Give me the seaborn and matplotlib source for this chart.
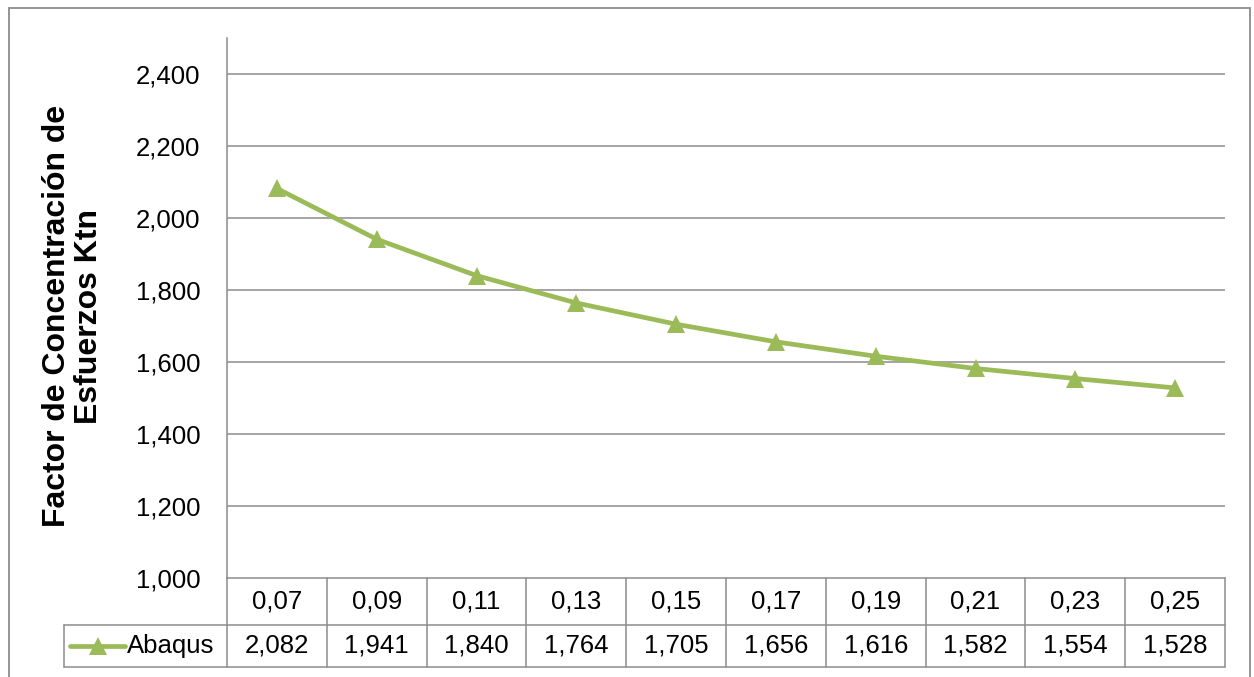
import numpy as np
import pandas as pd
import matplotlib
matplotlib.use("Agg")
import matplotlib.pyplot as plt
import matplotlib.transforms as mtransforms
from matplotlib.patches import Rectangle
from matplotlib.lines import Line2D
import seaborn as sns

# Data
x_labels = ["0,07", "0,09", "0,11", "0,13", "0,15", "0,17", "0,19", "0,21", "0,23", "0,25"]
ktn_abaqus = [2.082, 1.941, 1.840, 1.764, 1.705, 1.656, 1.616, 1.582, 1.554, 1.528]
series_name = "Abaqus"
y_ticks = [1.0, 1.2, 1.4, 1.6, 1.8, 2.0, 2.2, 2.4]
y_label = "Factor de Concentración de\nEsfuerzos Ktn"

GREEN = "#9BBB59"
GRID = "#8C8C8C"
W, H = 1254, 677

sns.set_theme(style="white")
plt.rcParams["font.family"] = ["Liberation Sans", "DejaVu Sans"]
plt.rcParams["text.color"] = "black"
plt.rcParams["ytick.labelcolor"] = "black"
plt.rcParams["ytick.color"] = "black"


def comma(v, nd):
    return f"{v:.{nd}f}".replace(".", ",")


df = pd.DataFrame({"pos": np.arange(len(x_labels)), "ktn": ktn_abaqus})

fig = plt.figure(figsize=(W / 100, H / 100), dpi=100)
ax = fig.add_axes([227 / W, 1 - 578 / H, 998 / W, 540 / H])

sns.lineplot(data=df, x="pos", y="ktn", ax=ax, color=GREEN, linewidth=3.4,
             marker="^", markersize=13, markeredgewidth=0,
             markerfacecolor=GREEN, zorder=5)

ax.set_xlim(-0.5, len(x_labels) - 0.5)
ax.set_ylim(1.0, 2.5)
ax.set_yticks(y_ticks)
ax.set_yticklabels([comma(v, 3) for v in y_ticks], fontsize=18.5, color="black")
ax.set_xticks([])
ax.set_xlabel("")
ax.set_ylabel("")
ax.tick_params(axis="y", length=0, pad=19)
for v in y_ticks[1:]:
    ax.axhline(v, color=GRID, lw=1.1, zorder=1)
for s in ["top", "right"]:
    ax.spines[s].set_visible(False)
for s in ["left", "bottom"]:
    ax.spines[s].set_color(GRID)
    ax.spines[s].set_linewidth(1.1)

# Y-axis title
fig.text(73 / W, 1 - 316 / H, y_label, rotation=90, ha="center", va="center",
         fontsize=23, fontweight="bold", linespacing=1.1, color="black")

# Data table beneath the plot
trans = mtransforms.blended_transform_factory(ax.transData, ax.transAxes)
col_w = 998 / len(x_labels)
def px_to_x(px):
    return -0.5 + (px - 227) / col_w

y1 = -(625 - 578) / 540
y2 = -(667 - 578) / 540
n = len(x_labels)
lkw = dict(color=GRID, lw=1.1, transform=trans, clip_on=False)
for i in range(n + 1):
    ax.add_line(Line2D([i - 0.5, i - 0.5], [0, y2], **lkw))
left = px_to_x(64)
ax.add_line(Line2D([left, n - 0.5], [y1, y1], **lkw))
ax.add_line(Line2D([left, n - 0.5], [y2, y2], **lkw))
ax.add_line(Line2D([left, left], [y1, y2], **lkw))

for i, (lab, v) in enumerate(zip(x_labels, ktn_abaqus)):
    ax.text(i, y1 / 2, lab, ha="center", va="center", fontsize=18.5,
            transform=trans, clip_on=False, color="black")
    ax.text(i, (y1 + y2) / 2, comma(v, 3), ha="center", va="center",
            fontsize=18.5, transform=trans, clip_on=False, color="black")

# Legend key in the table
ym = (y1 + y2) / 2
ax.add_line(Line2D([px_to_x(70), px_to_x(125)], [ym, ym], color=GREEN, lw=3.4,
                   transform=trans, clip_on=False))
ax.add_line(Line2D([px_to_x(98)], [ym], marker="^", markersize=13,
                   markerfacecolor=GREEN, markeredgewidth=0, color=GREEN,
                   transform=trans, clip_on=False))
ax.text(px_to_x(127), ym, series_name, ha="left", va="center", fontsize=18.5,
        transform=trans, clip_on=False, color="black")

# Chart frame
fig.add_artist(Rectangle((9 / W, -0.02), (1250 - 9) / W, 1 - 8 / H + 0.02,
                         transform=fig.transFigure, fill=False,
                         edgecolor=GRID, lw=1.3))

fig.savefig("out.png", dpi=100)
